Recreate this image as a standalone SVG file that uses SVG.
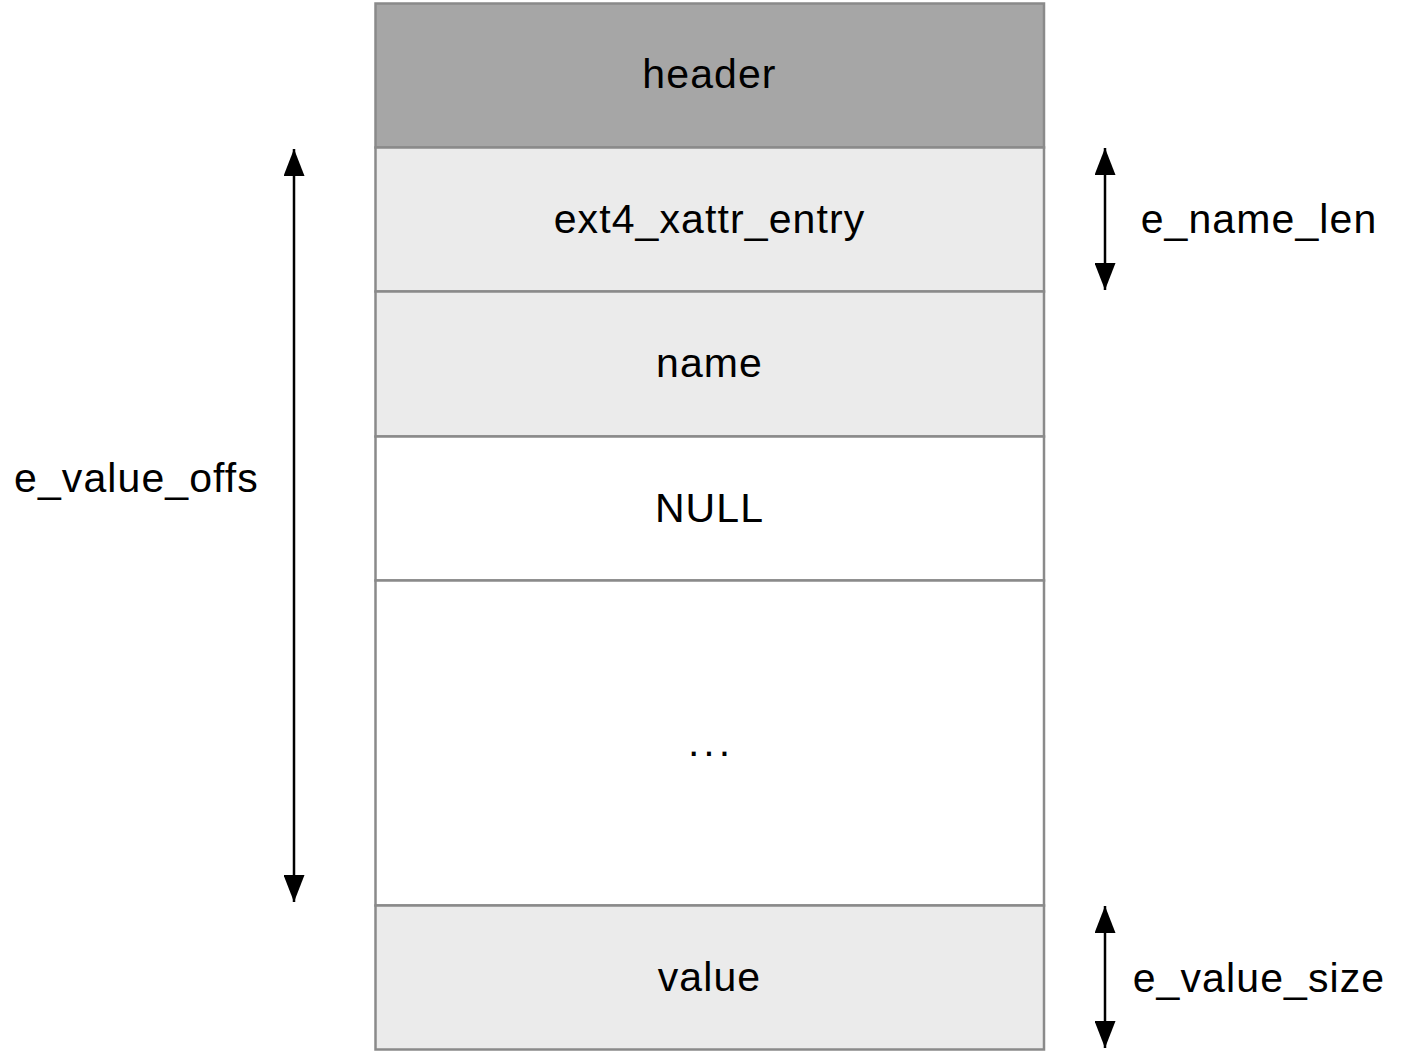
<svg xmlns="http://www.w3.org/2000/svg" width="1402" height="1052" viewBox="0 0 1402 1052">
<defs>
<style>
.cell{stroke:#8a8a8a;stroke-width:2.5}
.dark{fill:#a6a6a6}
.light{fill:#ebebeb}
.white{fill:#ffffff}
.lbl{font-family:"Liberation Sans",Arial,Helvetica,sans-serif;font-size:41px;fill:#000;letter-spacing:1.1px}
.mid{text-anchor:middle}
.conn{stroke:#000;stroke-width:2.5;fill:none;marker-start:url(#head);marker-end:url(#head)}
</style>
<marker id="head" viewBox="0 0 27 21" refX="27" refY="10.5" markerWidth="27" markerHeight="21" markerUnits="userSpaceOnUse" orient="auto-start-reverse">
<path d="M0,0 L27,10.5 L0,21 Z" fill="#000"/>
</marker>
</defs>
<rect width="1402" height="1052" fill="#fff"/>
<g id="header"><rect class="cell dark" x="375.5" y="3.5" width="668.5" height="144"/><text class="lbl mid" x="709.5" y="88">header</text></g>
<g id="ext4_xattr_entry"><rect class="cell light" x="375.5" y="147.5" width="668.5" height="144"/><text class="lbl mid" x="709.5" y="233">ext4_xattr_entry</text></g>
<g id="name"><rect class="cell light" x="375.5" y="291.5" width="668.5" height="145"/><text class="lbl mid" x="709.5" y="377">name</text></g>
<g id="null"><rect class="cell white" x="375.5" y="436.5" width="668.5" height="144"/><text class="lbl mid" x="709.5" y="522">NULL</text></g>
<g id="dots"><rect class="cell white" x="375.5" y="580.5" width="668.5" height="325"/><text class="lbl mid" x="711" y="756" style="letter-spacing:4px">...</text></g>
<g id="value"><rect class="cell light" x="375.5" y="905.5" width="668.5" height="144"/><text class="lbl mid" x="709.5" y="991">value</text></g>
<g id="connectors">
<line class="conn" x1="294" y1="149" x2="294" y2="902"/>
<line class="conn" x1="1105" y1="148" x2="1105" y2="290"/>
<line class="conn" x1="1105" y1="906" x2="1105" y2="1048"/>
</g>
<g id="labels">
<text class="lbl" x="14" y="492">e_value_offs</text>
<text class="lbl mid" x="1259" y="233">e_name_len</text>
<text class="lbl mid" x="1259" y="992">e_value_size</text>
</g>
</svg>
